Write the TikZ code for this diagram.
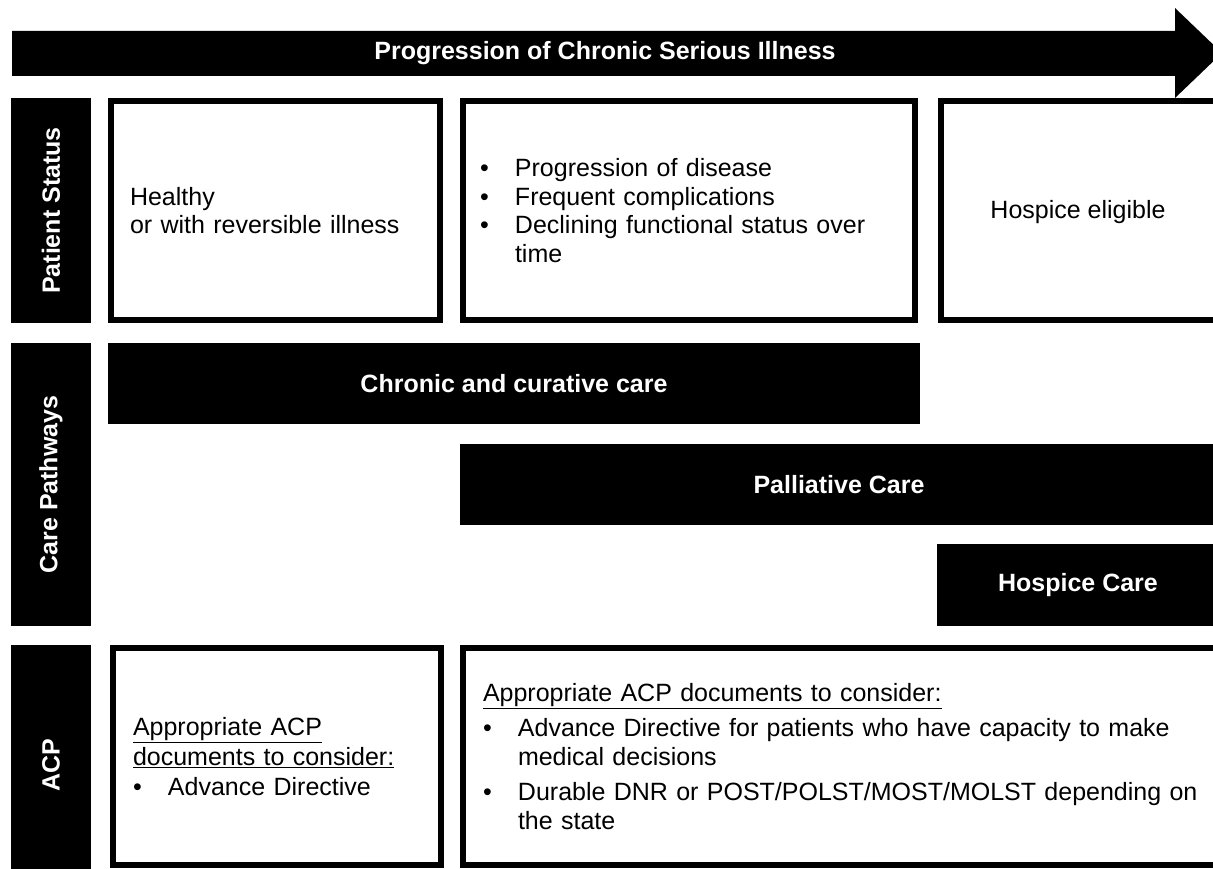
\documentclass[tikz,border=0pt]{standalone}
\usepackage{fontspec}
\setmainfont{Liberation Sans}
\newcommand{\myitem}[1]{\makebox[35pt][l]{\textbullet}#1}
\newcommand{\mycont}{\hspace*{35pt}}
\begin{document}
\begin{tikzpicture}[x=1pt,y=-1pt,
  every node/.style={inner sep=0pt, outer sep=0pt},
  bigfont/.style={font=\fontsize{25}{28.5}\selectfont},
  blackbar/.style={fill=black, text=white, font=\fontsize{25}{28.5}\selectfont\bfseries},
  framebox/.style={draw=black, line width=6pt, fill=white, bigfont, align=left, inner ysep=0pt},
  plaintext/.style={bigfont, text=black},
]
\useasboundingbox (0,0) rectangle (1213,869);
\clip (0,0) rectangle (1213,869);

% progression arrow
\fill[black] (12,31) -- (1175,31) -- (1175,8) -- (1222,53) -- (1175,98) -- (1175,76) -- (12,76) -- cycle;
\node[text=white, font=\fontsize{25}{28.5}\selectfont\bfseries] (title) at (605,53.5) {Progression of Chronic Serious Illness};

% row labels
\node[blackbar, rotate=90, minimum width=225pt, minimum height=80pt] (lblps) at (51,210.5) {Patient Status};
\node[blackbar, rotate=90, minimum width=283pt, minimum height=80pt] (lblcp) at (51,484.5) {Care Pathways};
\node[blackbar, rotate=90, minimum width=240pt, minimum height=80pt] (lblacp) at (51,765) {ACP};

% patient status boxes
\node[framebox, minimum height=219pt, text width=291pt, inner xsep=19pt] (ps1) at (275.5,210.5)
  {Healthy\\or with reversible illness};
\node[framebox, minimum height=219pt, text width=418pt, inner xsep=17pt] (ps2) at (689,210.5)
  {\myitem{Progression of disease}\\
   \myitem{Frequent complications}\\
   \myitem{Declining functional status over}\\
   \mycont time};
\node[framebox, minimum width=284pt, minimum height=219pt] (ps3) at (1083,210.5) {};
\node[plaintext] (ps3text) at (1078,212) {Hospice eligible};

% care pathways bars
\node[blackbar, minimum width=812pt, minimum height=81pt] (chronic) at (514,383.5) {Chronic and curative care};
\node[blackbar, minimum width=758pt, minimum height=81pt] (palliative) at (839,484.5) {Palliative Care};
\node[blackbar, minimum width=282pt, minimum height=82pt] (hospice) at (1078,585) {Hospice Care};

% ACP boxes
\node[framebox, minimum height=217pt, text width=288pt, inner xsep=20pt] (acp1) at (277,756.5)
  {\underline{Appropriate ACP}\\[2pt]
   \underline{documents to consider:}\\[1pt]
   \myitem{Advance Directive}};
\node[framebox, minimum height=217pt, text width=722pt, inner xsep=20pt] (acp2) at (844,756.5)
  {\underline{Appropriate ACP documents to consider:}\\[7pt]
   \myitem{Advance Directive for patients who have capacity to make}\\
   \mycont medical decisions\\[7pt]
   \myitem{Durable DNR or POST/POLST/MOST/MOLST depending on}\\
   \mycont the state};
\end{tikzpicture}
\end{document}
